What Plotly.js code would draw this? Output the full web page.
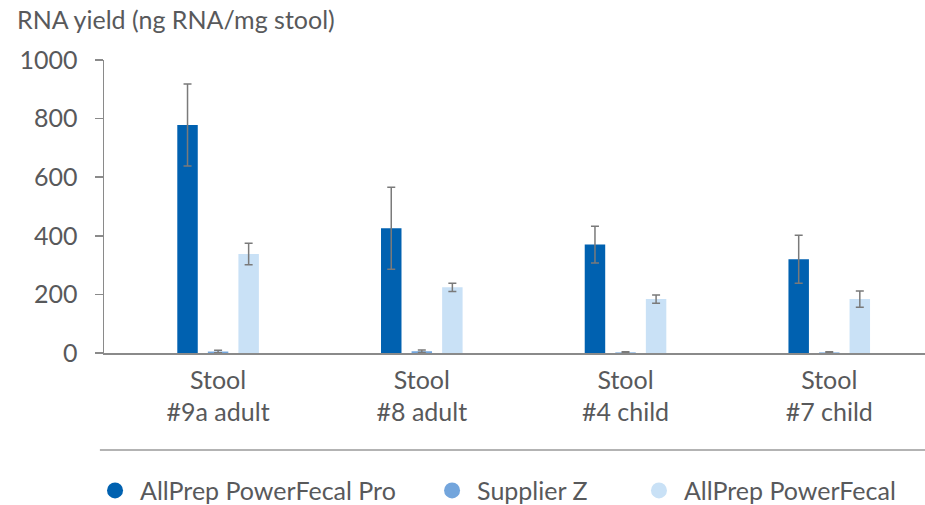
<!DOCTYPE html>
<html>
<head>
<meta charset="utf-8">
<script src="https://cdn.plot.ly/plotly-3.0.1.min.js"></script>
<style>html,body{margin:0;padding:0;background:#fff;}#chart{width:925px;height:505px;}</style>
</head>
<body>
<div id="chart"></div>
<script>
const categories = ["Stool<br>#9a adult", "Stool<br>#8 adult", "Stool<br>#4 child", "Stool<br>#7 child"];
const seriesNames = ["AllPrep PowerFecal Pro", "Supplier Z", "AllPrep PowerFecal"];
const proValues = [778, 426, 370, 320];
const proErrors = [140, 140, 63, 82];
const supplierZValues = [5, 6, 2, 2];
const supplierZErrors = [4, 4, 2, 2];
const fecalValues = [338, 224, 184, 184];
const fecalErrors = [37, 14, 14, 28];
const yTicks = [0, 200, 400, 600, 800, 1000];
const colors = ["#0061b0", "#73a5dc", "#c9e1f6"];

const textColor = "#58595b";
const fontFamily = "Lato, 'Open Sans', sans-serif";
const fs = 25;
const legendIds = ["legend", "legend2", "legend3"];
const legendX = [-0.017, 0.3935, 0.6455];

function barTrace(vals, errs, i) {
  return {
    type: "bar", x: categories, y: vals, name: seriesNames[i],
    marker: {color: colors[i]}, showlegend: false,
    error_y: {type: "data", array: errs, visible: true, color: "#7a7a7a", thickness: 1.5, width: 4}
  };
}
function legendTrace(i) {
  return {
    type: "scatter", mode: "markers", x: [null], y: [null], name: seriesNames[i],
    legend: legendIds[i],
    marker: {color: colors[i], size: 18, symbol: "circle"}, showlegend: true, hoverinfo: "skip"
  };
}

const data = [
  barTrace(proValues, proErrors, 0),
  barTrace(supplierZValues, supplierZErrors, 1),
  barTrace(fecalValues, fecalErrors, 2),
  legendTrace(0), legendTrace(1), legendTrace(2)
];

const layout = {
  width: 925, height: 505,
  margin: {l: 104, r: 0, t: 60, b: 152, pad: 0, autoexpand: false},
  paper_bgcolor: "#fff", plot_bgcolor: "#fff",
  font: {family: fontFamily, size: fs, color: textColor},
  barmode: "group", bargap: 0.55, bargroupgap: 0.33,
  title: {text: "RNA yield (ng RNA/mg stool)", x: 17/925, xref: "container", xanchor: "left", y: 1 - 20/505, yref: "container", yanchor: "middle", font: {family: fontFamily, size: fs, color: textColor}},
  xaxis: {
    type: "category", range: [-0.56, 3.47],
    showline: true, linecolor: "#8a8a8a", linewidth: 1.5,
    ticks: "", showgrid: false, zeroline: false,
    tickfont: {family: fontFamily, size: fs, color: textColor},
    ticklabelstandoff: 4
  },
  yaxis: {
    range: [0, 1000], tickvals: yTicks, ticktext: yTicks.map(String),
    showline: true, linecolor: "#8a8a8a", linewidth: 1.5,
    ticks: "outside", ticklen: 8, tickcolor: "#8a8a8a", tickwidth: 1.5,
    showgrid: false, zeroline: false,
    tickfont: {family: fontFamily, size: fs, color: textColor},
    ticklabelstandoff: 12
  },
  shapes: [{
    type: "line", xref: "paper", yref: "paper", x0: -0.005, x1: 1, y0: -0.331, y1: -0.331,
    line: {color: "#9a9a9a", width: 1.5}
  }]
};
legendIds.forEach(function (id, i) {
  layout[id] = {
    orientation: "h", x: legendX[i], xanchor: "left", y: -0.47, yanchor: "middle",
    font: {family: fontFamily, size: fs, color: textColor}, bgcolor: "rgba(0,0,0,0)",
    itemwidth: 40,
    itemclick: false, itemdoubleclick: false
  };
});

Plotly.newPlot("chart", data, layout, {staticPlot: true, displayModeBar: false});
</script>
</body>
</html>
